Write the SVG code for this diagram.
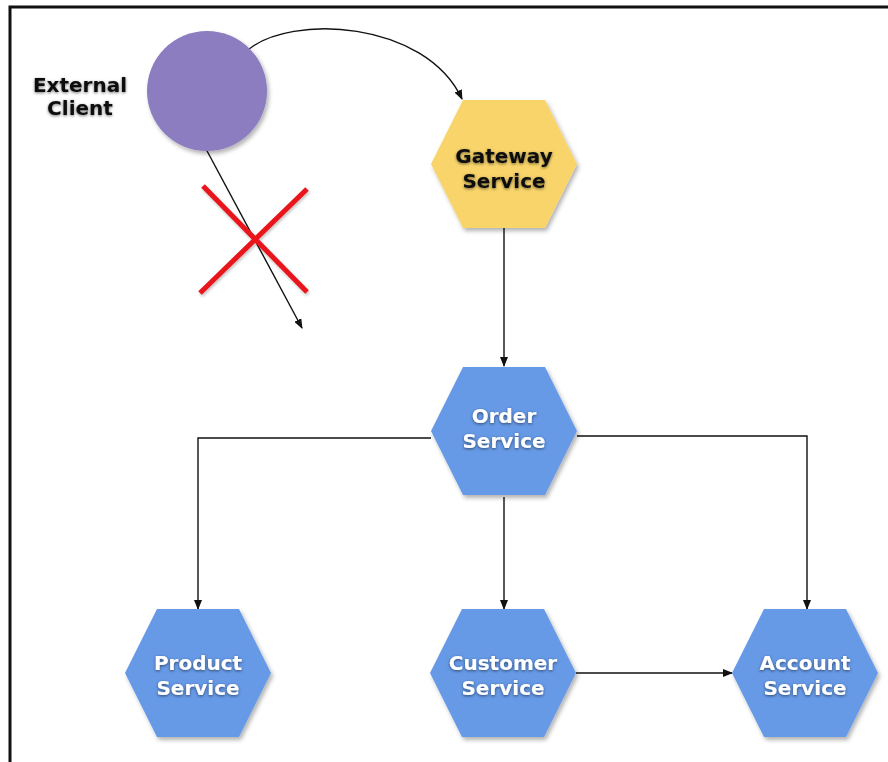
<svg xmlns="http://www.w3.org/2000/svg" width="888" height="762" viewBox="0 0 888 762">
  <defs>
    <filter id="nodeShadow" x="-20%" y="-20%" width="140%" height="140%">
      <feDropShadow dx="2" dy="3" stdDeviation="2" flood-color="#000" flood-opacity="0.3"/>
    </filter>
    <filter id="textShadow" x="-20%" y="-40%" width="140%" height="180%">
      <feDropShadow dx="0" dy="1" stdDeviation="1.6" flood-color="#000" flood-opacity="0.55"/>
    </filter>
    <filter id="xShadow" x="-20%" y="-20%" width="140%" height="140%">
      <feDropShadow dx="1" dy="2" stdDeviation="1.5" flood-color="#000" flood-opacity="0.25"/>
    </filter>
    <marker id="arrow" markerWidth="10" markerHeight="8" refX="9" refY="4" orient="auto" markerUnits="userSpaceOnUse">
      <path d="M0,0 L10,4 L0,8 Z" fill="#111"/>
    </marker>
    <polygon id="hex" points="-73,0 -41,-64 41,-64 73,0 41,64 -41,64"/>
  </defs>
  <style>
    .label { font-family: "DejaVu Sans", Verdana, sans-serif; font-weight: bold; font-size: 20px; text-anchor: middle; filter: url(#textShadow); }
    .light { fill: #ffffff; }
    .dark { fill: #111111; }
    .service { fill: #6699e6; filter: url(#nodeShadow); }
    .gateway { fill: #f8d46a; filter: url(#nodeShadow); }
    .edge { fill: none; stroke: #111; stroke-width: 1.4; }
  </style>

  <rect x="0" y="0" width="888" height="762" fill="#ffffff"/>
  <!-- frame -->
  <rect x="10" y="7" width="900" height="800" fill="none" stroke="#111" stroke-width="3"/>

  <g id="connectors">
    <path class="edge" d="M248,50 C290,14 425,20 462,99" marker-end="url(#arrow)"/>
    <path class="edge" d="M206,149 L302,328" marker-end="url(#arrow)"/>
    <path class="edge" d="M504,228 L504,366" marker-end="url(#arrow)"/>
    <path class="edge" d="M431,438 L198,438 L198,609" marker-end="url(#arrow)"/>
    <path class="edge" d="M577,436 L807,436 L807,609" marker-end="url(#arrow)"/>
    <path class="edge" d="M504,497 L504,609" marker-end="url(#arrow)"/>
    <path class="edge" d="M576,673 L732,673" marker-end="url(#arrow)"/>
  </g>

  <g id="blocked" filter="url(#xShadow)">
    <line x1="203" y1="186" x2="307" y2="292" stroke="#e8141a" stroke-width="5"/>
    <line x1="307" y1="189" x2="200" y2="293" stroke="#e8141a" stroke-width="5"/>
  </g>

  <g id="external-client">
    <circle cx="207" cy="91" r="60" fill="#8c7cc0" filter="url(#nodeShadow)"/>
    <text class="label dark" x="80" y="92">External</text>
    <text class="label dark" x="80" y="115">Client</text>
  </g>

  <g id="gateway-service">
    <use href="#hex" x="504" y="164" class="gateway"/>
    <text class="label dark" x="504" y="163">Gateway</text>
    <text class="label dark" x="504" y="188">Service</text>
  </g>

  <g id="order-service">
    <use href="#hex" x="504" y="431" class="service"/>
    <text class="label light" x="504" y="423">Order</text>
    <text class="label light" x="504" y="448">Service</text>
  </g>

  <g id="product-service">
    <use href="#hex" x="198" y="673" class="service"/>
    <text class="label light" x="198" y="670">Product</text>
    <text class="label light" x="198" y="695">Service</text>
  </g>

  <g id="customer-service">
    <use href="#hex" x="503" y="673" class="service"/>
    <text class="label light" x="503" y="670">Customer</text>
    <text class="label light" x="503" y="695">Service</text>
  </g>

  <g id="account-service">
    <use href="#hex" x="805" y="673" class="service"/>
    <text class="label light" x="805" y="670">Account</text>
    <text class="label light" x="805" y="695">Service</text>
  </g>
</svg>
